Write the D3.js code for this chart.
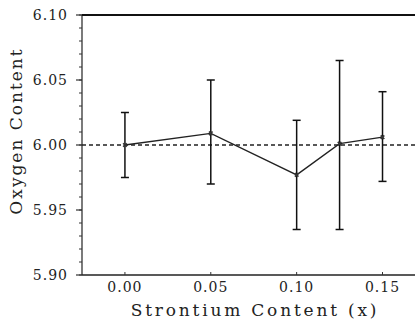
<!DOCTYPE html>
<html>
<head>
<meta charset="utf-8">
<script src="https://cdn.jsdelivr.net/npm/d3@7"></script>
<style>
  body { margin: 0; background: #fff; }
  svg { display: block; }
  .tick-label { font-family: "DejaVu Serif", serif; font-size: 14px; letter-spacing: 1px; fill: #222; }
  .axis-label { font-family: "DejaVu Serif", serif; font-size: 17px; fill: #222; }
</style>
</head>
<body>
<div class="chart"></div>
<script>
// data
var strontium = [0.00, 0.05, 0.10, 0.125, 0.15];
var oxygen    = [6.000, 6.009, 5.977, 6.001, 6.006];
var errHigh   = [6.025, 6.050, 6.019, 6.065, 6.041];
var errLow    = [5.975, 5.970, 5.935, 5.935, 5.972];
var xTicks = [0.00, 0.05, 0.10, 0.15];
var yTicks = [5.90, 5.95, 6.00, 6.05, 6.10];
var referenceLevel = 6.00;

var svgWidth = 415, svgHeight = 321;
// plot edges (note: "top" is reserved on window, so prefix them)
var plotLeft = 82, plotRight = 416, plotTop = 15, plotBottom = 275;

var svg = d3.select(".chart").append("svg")
  .attr("width", svgWidth)
  .attr("height", svgHeight);

var x = d3.scaleLinear().domain([-0.025, 0.1695]).range([plotLeft, plotRight]);
var y = d3.scaleLinear().domain([5.90, 6.10]).range([plotBottom, plotTop]);

var points = strontium.map(function(s, i) {
  return { s: s, o: oxygen[i], hi: errHigh[i], lo: errLow[i] };
});

// frame: left axis, bottom axis, top line
svg.append("line").attr("x1", plotLeft).attr("x2", plotLeft).attr("y1", plotTop).attr("y2", plotBottom)
  .attr("stroke", "#333").attr("stroke-width", 1.3);
svg.append("line").attr("x1", plotLeft).attr("x2", plotRight).attr("y1", plotBottom).attr("y2", plotBottom)
  .attr("stroke", "#222").attr("stroke-width", 1.5);
svg.append("line").attr("x1", plotLeft).attr("x2", plotRight).attr("y1", plotTop).attr("y2", plotTop)
  .attr("stroke", "#111").attr("stroke-width", 2);

// y ticks: minor every 0.01, major every 0.05
var minor = d3.range(5.90, 6.1001, 0.01);
svg.selectAll(".ytick-minor").data(minor).enter().append("line")
  .attr("x1", plotLeft - 3).attr("x2", plotLeft)
  .attr("y1", function(d) { return y(d); })
  .attr("y2", function(d) { return y(d); })
  .attr("stroke", "#333").attr("stroke-width", 1);
svg.selectAll(".ytick-major").data(yTicks).enter().append("line")
  .attr("x1", plotLeft - 6).attr("x2", plotLeft)
  .attr("y1", function(d) { return y(d); })
  .attr("y2", function(d) { return y(d); })
  .attr("stroke", "#333").attr("stroke-width", 1.2);
svg.selectAll(".ylab").data(yTicks).enter().append("text")
  .attr("class", "tick-label")
  .attr("x", 68)
  .attr("y", function(d) { return y(d) + 5; })
  .attr("text-anchor", "end")
  .text(function(d) { return d.toFixed(2); });

// x ticks
svg.selectAll(".xtick").data(xTicks).enter().append("line")
  .attr("x1", function(d) { return x(d); })
  .attr("x2", function(d) { return x(d); })
  .attr("y1", plotBottom).attr("y2", plotBottom - 3)
  .attr("stroke", "#333");
svg.selectAll(".xlab").data(xTicks).enter().append("text")
  .attr("class", "tick-label")
  .attr("x", function(d) { return x(d); })
  .attr("y", 292)
  .attr("text-anchor", "middle")
  .text(function(d) { return d.toFixed(2); });

// axis titles
svg.append("text").attr("class", "axis-label")
  .attr("x", 255).attr("y", 316)
  .attr("text-anchor", "middle")
  .style("letter-spacing", "2.8px")
  .text("Strontium Content (x)");
svg.append("text").attr("class", "axis-label")
  .attr("transform", "translate(22,131) rotate(-90)")
  .attr("text-anchor", "middle")
  .style("letter-spacing", "2px")
  .text("Oxygen Content");

// dashed reference line
svg.append("line")
  .attr("x1", plotLeft).attr("x2", plotRight)
  .attr("y1", y(referenceLevel)).attr("y2", y(referenceLevel))
  .attr("stroke", "#222").attr("stroke-width", 1.4)
  .attr("stroke-dasharray", "4,3");

// error bars
var bars = svg.selectAll(".err").data(points).enter().append("g");
bars.append("line")
  .attr("x1", function(d) { return x(d.s); })
  .attr("x2", function(d) { return x(d.s); })
  .attr("y1", function(d) { return y(d.hi); })
  .attr("y2", function(d) { return y(d.lo); })
  .attr("stroke", "#111").attr("stroke-width", 1.5);
["hi", "lo"].forEach(function(k) {
  bars.append("line")
    .attr("x1", function(d) { return x(d.s) - 4; })
    .attr("x2", function(d) { return x(d.s) + 4; })
    .attr("y1", function(d) { return y(d[k]); })
    .attr("y2", function(d) { return y(d[k]); })
    .attr("stroke", "#111").attr("stroke-width", 1.5);
});

// connecting line
var line = d3.line()
  .x(function(d) { return x(d.s); })
  .y(function(d) { return y(d.o); });
svg.append("path").datum(points)
  .attr("d", line)
  .attr("fill", "none")
  .attr("stroke", "#222").attr("stroke-width", 1.3);

// small x markers
var sym = d3.symbol().type(d3.symbolCross).size(14);
svg.selectAll(".pt").data(points).enter().append("path")
  .attr("d", sym)
  .attr("transform", function(d) { return "translate(" + x(d.s) + "," + y(d.o) + ") rotate(45)"; })
  .attr("fill", "#333");
</script>
</body>
</html>
